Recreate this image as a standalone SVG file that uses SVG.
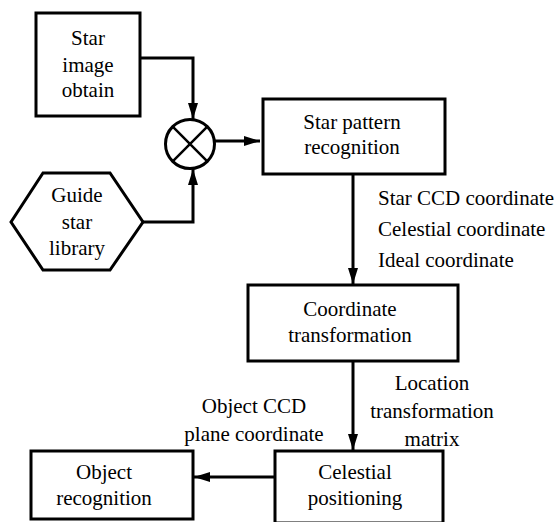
<svg xmlns="http://www.w3.org/2000/svg" width="559" height="522" viewBox="0 0 559 522" font-family="'Liberation Serif', 'Times New Roman', 'DejaVu Serif', serif">
<defs>
<marker id="ah" viewBox="0 0 16 10" refX="16" refY="5" markerWidth="16" markerHeight="10" markerUnits="userSpaceOnUse" orient="auto">
<path d="M0,0 L16,5 L0,10 Z" fill="#000"/>
</marker>
</defs>
<style>
.box{fill:#fff;stroke:#000;stroke-width:3}
text{font-family:'Liberation Serif','Times New Roman','DejaVu Serif',serif;font-size:21px;fill:#000}
.t{text-anchor:middle}
.c{fill:none;stroke:#000;stroke-width:3}
</style>
<rect width="559" height="522" fill="#fff"/>
<g id="connectors">
<path class="c" d="M140,58 H193 V119" marker-end="url(#ah)"/>
<path class="c" d="M143,222 H193 V169" marker-end="url(#ah)"/>
<path class="c" d="M215,141 H260" marker-end="url(#ah)"/>
<path class="c" d="M353,174 V284" marker-end="url(#ah)"/>
<path class="c" d="M353,361 V450" marker-end="url(#ah)"/>
<path class="c" d="M275,477 H194" marker-end="url(#ah)"/>
</g>
<g id="star-image-obtain">
<rect class="box" x="36" y="13" width="104" height="103"/>
<text class="t" x="88" y="45">Star</text>
<text class="t" x="88" y="72">image</text>
<text class="t" x="88" y="97">obtain</text>
</g>
<g id="combiner">
<circle cx="190" cy="144" r="24.5" fill="#fff" stroke="#000" stroke-width="3"/>
<path d="M172.7,126.7 L207.3,161.3 M207.3,126.7 L172.7,161.3" stroke="#000" stroke-width="2.5"/>
</g>
<g id="guide-star-library">
<polygon class="box" points="11,222 43,173 110,173 143,222 110,270 43,270"/>
<text class="t" x="77" y="202">Guide</text>
<text class="t" x="77" y="229">star</text>
<text class="t" x="77" y="255">library</text>
</g>
<g id="star-pattern-recognition">
<rect class="box" x="263" y="99" width="182" height="75"/>
<text class="t" x="352" y="129">Star pattern</text>
<text class="t" x="352" y="154">recognition</text>
</g>
<g id="label-coords">
<text x="378" y="205">Star CCD coordinate</text>
<text x="378" y="236">Celestial coordinate</text>
<text x="378" y="267">Ideal coordinate</text>
</g>
<g id="coordinate-transformation">
<rect class="box" x="248" y="285" width="210" height="76"/>
<text class="t" x="350" y="316">Coordinate</text>
<text class="t" x="350" y="342">transformation</text>
</g>
<g id="label-location">
<text class="t" x="432" y="390">Location</text>
<text class="t" x="432" y="418">transformation</text>
<text class="t" x="432" y="446">matrix</text>
</g>
<g id="label-object-ccd">
<text class="t" x="254" y="413">Object CCD</text>
<text class="t" x="254" y="441">plane coordinate</text>
</g>
<g id="celestial-positioning">
<rect class="box" x="275" y="451" width="168" height="72"/>
<text class="t" x="355" y="479">Celestial</text>
<text class="t" x="355" y="505">positioning</text>
</g>
<g id="object-recognition">
<rect class="box" x="31" y="451" width="162" height="68"/>
<text class="t" x="104" y="479">Object</text>
<text class="t" x="104" y="505">recognition</text>
</g>
</svg>
